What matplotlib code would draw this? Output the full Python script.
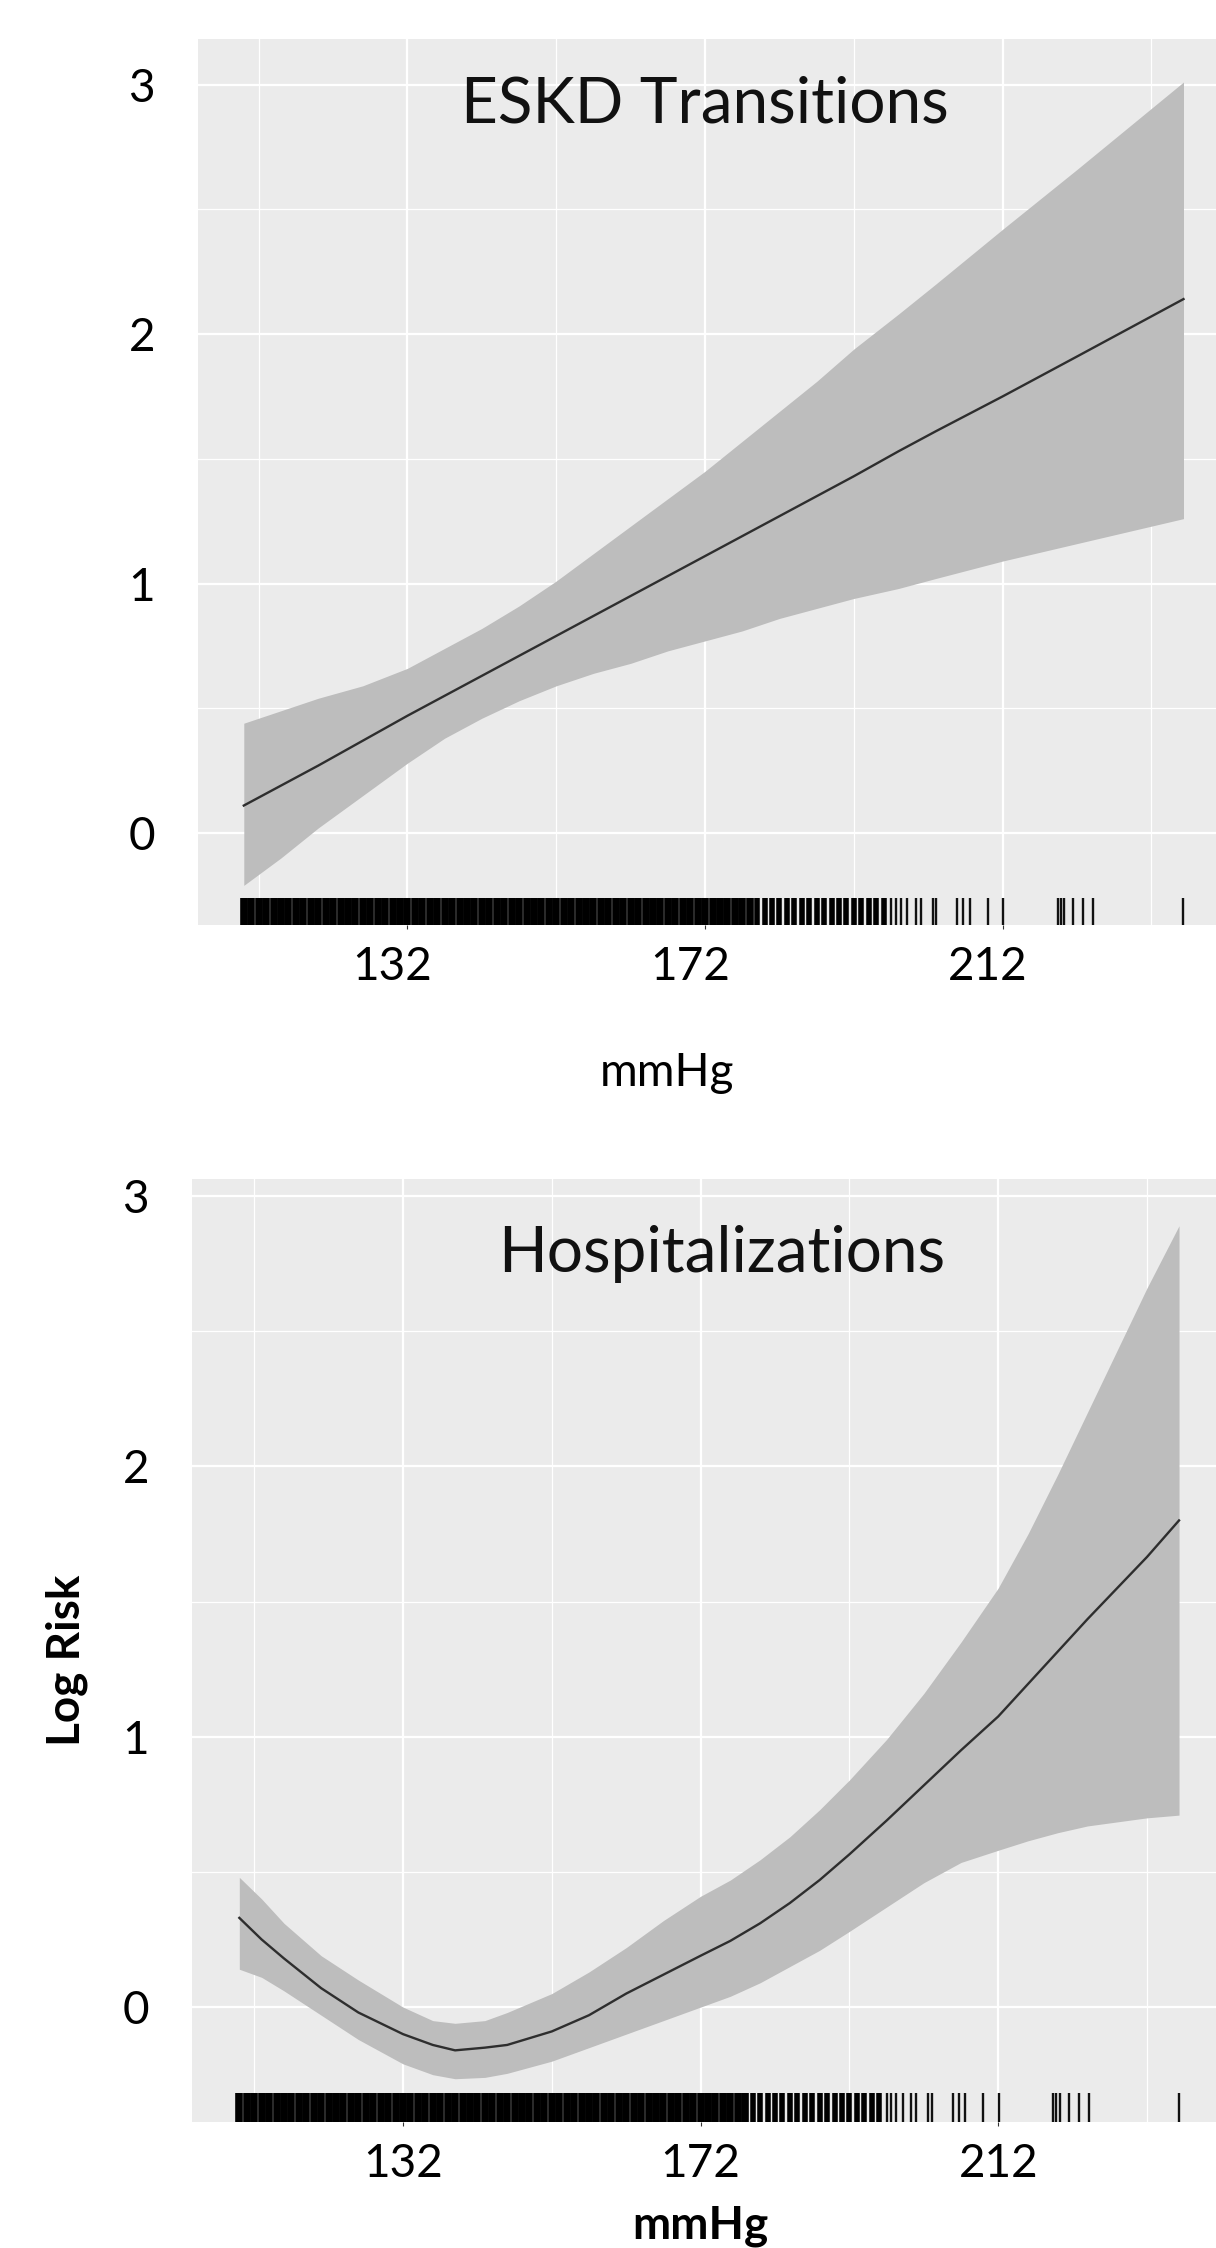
import matplotlib
matplotlib.use("Agg")
import matplotlib.pyplot as plt
import matplotlib.transforms as mtransforms
from matplotlib.ticker import FixedLocator

plt.rcParams['font.family'] = ['Lato', 'DejaVu Sans']

# ESKD transitions: fitted log risk with confidence band
eskd_x = [110, 115, 120, 126, 132, 137, 142, 147, 152, 157, 162, 167, 172, 177, 182,
          187, 192, 198, 203, 212, 222, 236.3]
eskd_fit = [0.11, 0.19, 0.27, 0.37, 0.47, 0.55, 0.63, 0.71, 0.79, 0.87, 0.95, 1.03,
            1.11, 1.19, 1.27, 1.35, 1.43, 1.53, 1.61, 1.75, 1.91, 2.14]
eskd_upper = [0.44, 0.49, 0.54, 0.59, 0.66, 0.74, 0.82, 0.91, 1.01, 1.12, 1.23, 1.34,
              1.45, 1.57, 1.69, 1.81, 1.94, 2.08, 2.20, 2.42, 2.66, 3.01]
eskd_lower = [-0.21, -0.10, 0.02, 0.15, 0.28, 0.38, 0.46, 0.53, 0.59, 0.64, 0.68, 0.73,
              0.77, 0.81, 0.86, 0.90, 0.94, 0.98, 1.02, 1.09, 1.16, 1.26]

# Hospitalizations
hosp_x = [110, 113, 116, 121, 126, 132, 136, 139, 143, 146, 152, 157, 162, 167, 172,
          176, 180, 184, 188, 192, 197, 202, 207, 212, 216, 220, 224, 228, 232, 236.3]
hosp_fit = [0.33, 0.25, 0.18, 0.07, -0.02, -0.10, -0.14, -0.16, -0.15, -0.14, -0.09,
            -0.03, 0.05, 0.12, 0.19, 0.245, 0.31, 0.385, 0.47, 0.565, 0.69, 0.82, 0.95,
            1.075, 1.195, 1.315, 1.435, 1.55, 1.665, 1.80]
hosp_upper = [0.48, 0.40, 0.31, 0.19, 0.10, 0.00, -0.05, -0.06, -0.05, -0.02, 0.05,
              0.13, 0.22, 0.32, 0.41, 0.47, 0.545, 0.63, 0.73, 0.84, 0.99, 1.16, 1.35,
              1.55, 1.75, 1.97, 2.20, 2.43, 2.66, 2.89]
hosp_lower = [0.14, 0.11, 0.06, -0.03, -0.12, -0.21, -0.25, -0.265, -0.26, -0.245,
              -0.20, -0.15, -0.10, -0.05, 0.00, 0.04, 0.09, 0.15, 0.21, 0.28, 0.37,
              0.46, 0.535, 0.58, 0.615, 0.645, 0.67, 0.685, 0.70, 0.71]

# rug of observed mmHg values
rug_dense = [110, 111, 112, 113, 114, 115, 116, 117, 118, 119, 120, 121, 122, 123, 124,
             125, 126, 127, 128, 129, 130, 131, 132, 133, 134, 135, 136, 137, 138, 139,
             140, 141, 142, 143, 144, 145, 146, 147, 148, 149, 150, 151, 152, 153, 154,
             155, 156, 157, 158, 159, 160, 161, 162, 163, 164, 165, 166, 167, 168, 169,
             170, 171, 172, 173, 174, 175, 176, 177, 178]
rug_mid = [179, 180, 181, 182, 183, 184, 185, 186, 187, 188, 189, 190, 191, 192, 193,
           194, 195, 196]
rug_sparse = [197.0, 197.6, 198.3, 199.2, 200.3, 201.0, 202.6, 203.1, 205.9, 206.7, 207.6,
              210.0, 212.1, 219.4, 219.8, 220.3, 221.5, 222.8, 224.2, 236.3]

major_x = [132, 172, 212]
minor_x = [112, 152, 192, 232]
major_y = [0, 1, 2, 3]
minor_y = [0.5, 1.5, 2.5]

fig = plt.figure(figsize=(12.16, 22.48), dpi=100)
fig.patch.set_facecolor('white')

ax1 = fig.add_axes([0.1628, 0.5885, 0.8372, 0.3941])
ax2 = fig.add_axes([0.1579, 0.05605, 0.8421, 0.4195])


def draw_panel(ax, x, fit, lower, upper, xlim, ylim):
    ax.set_facecolor('#EBEBEB')
    for s in ax.spines.values():
        s.set_visible(False)
    ax.set_xlim(*xlim)
    ax.set_ylim(*ylim)
    ax.xaxis.set_major_locator(FixedLocator(major_x))
    ax.xaxis.set_minor_locator(FixedLocator(minor_x))
    ax.yaxis.set_major_locator(FixedLocator(major_y))
    ax.yaxis.set_minor_locator(FixedLocator(minor_y))
    ax.grid(which='major', color='white', linewidth=1.6)
    ax.grid(which='minor', color='white', linewidth=0.9)
    ax.set_axisbelow(True)
    ax.tick_params(axis='x', which='major', length=3, width=0.8, color='#333333',
                   labelsize=33, pad=12)
    ax.tick_params(axis='y', which='major', length=0, labelsize=33, pad=31)
    ax.tick_params(which='minor', length=0)

    ax.fill_between(x, lower, upper, color='#BDBDBD', linewidth=0, zorder=2)
    ax.plot(x, fit, color='#2e2e2e', linewidth=1.7, zorder=3)

    tr = ax.get_xaxis_transform()
    ax.vlines(rug_dense, 0, 0.031, transform=tr, color='black', linewidth=5.5, zorder=4)
    ax.vlines(rug_mid, 0, 0.031, transform=tr, color='black', linewidth=4.0, zorder=4)
    ax.vlines(rug_sparse, 0, 0.031, transform=tr, color='#111111', linewidth=1.7, zorder=4)


draw_panel(ax1, eskd_x, eskd_fit, eskd_lower, eskd_upper, (103.84, 240.67), (-0.369, 3.182))
draw_panel(ax2, hosp_x, hosp_fit, hosp_lower, hosp_upper, (103.64, 241.27), (-0.425, 3.063))

# top panel tick labels sit a bit left of their gridlines
shift = mtransforms.ScaledTranslation(-0.15, 0, fig.dpi_scale_trans)
for lab in ax1.get_xticklabels():
    lab.set_transform(lab.get_transform() + shift)

ax1.text(0.498, 0.906, 'ESKD Transitions', transform=ax1.transAxes, ha='center',
         va='baseline', fontsize=46, color='#111111')
ax2.text(0.517, 0.901, 'Hospitalizations', transform=ax2.transAxes, ha='center',
         va='baseline', fontsize=46, color='#111111')

ax1.set_xlabel('mmHg', fontsize=33, va='center')
ax1.xaxis.set_label_coords(0.461, -0.167)

ax2.set_xlabel('mmHg', fontsize=33, fontweight='bold', va='center')
ax2.xaxis.set_label_coords(0.496, -0.110)
ax2.set_ylabel('Log Risk', fontsize=33, fontweight='bold', va='center')
ax2.yaxis.set_label_coords(-0.122, 0.49)

fig.savefig('out.png', dpi=100)
